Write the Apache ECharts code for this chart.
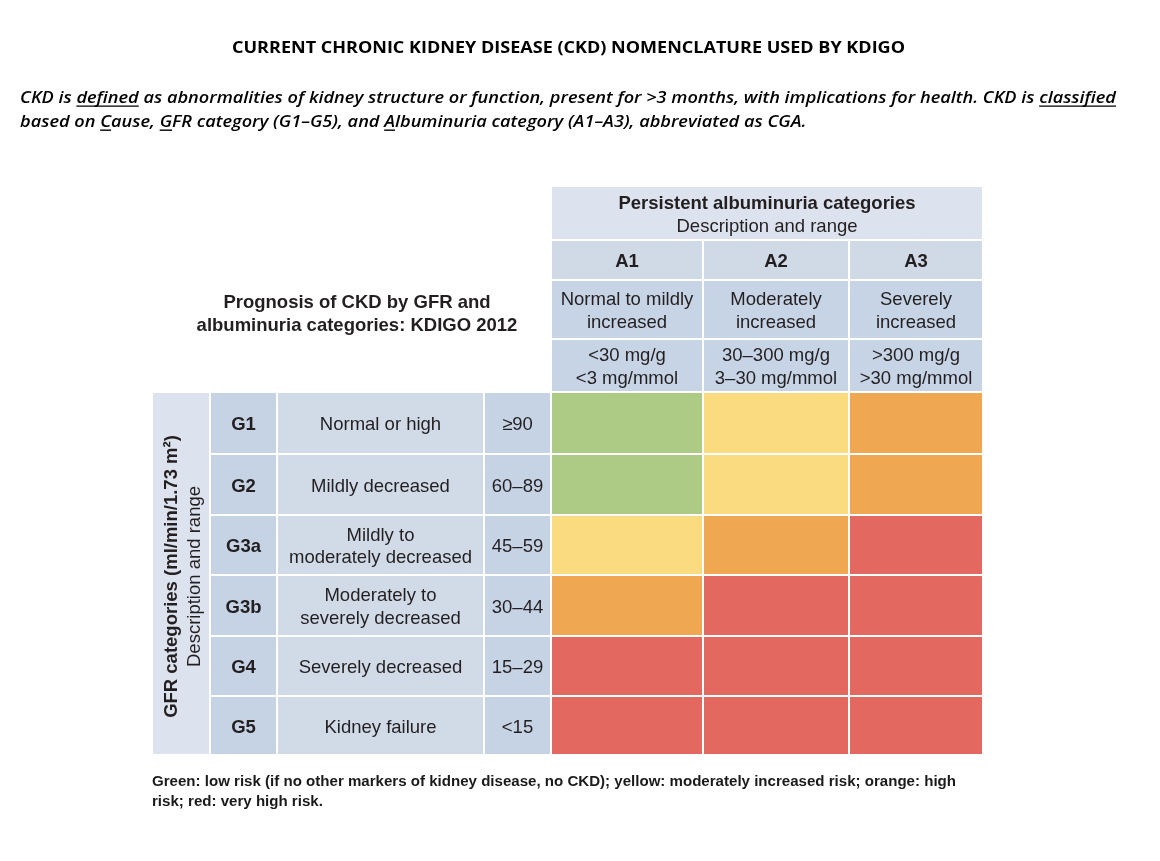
<!DOCTYPE html>
<html>
<head>
<meta charset="utf-8">
<script src="https://cdn.jsdelivr.net/npm/echarts@6/dist/echarts.min.js"></script>
<style>
html,body{margin:0;padding:0;background:#ffffff;}
#main{width:1160px;height:861px;}
</style>
</head>
<body>
<div id="main"></div>
<script>
// ---------------- DATA ----------------
const titleText = 'CURRENT CHRONIC KIDNEY DISEASE (CKD) NOMENCLATURE USED BY KDIGO';
const introLines = [
  'CKD is defined as abnormalities of kidney structure or function, present for >3 months, with implications for health. CKD is classified',
  'based on Cause, GFR category (G1–G5), and Albuminuria category (A1–A3), abbreviated as CGA.'
];
// [line index, word, number of underlined characters]
const introUnderlines = [[0, 'defined', 7], [0, 'classified', 10], [1, 'Cause', 1], [1, 'GFR', 1], [1, 'Albuminuria', 1]];
const tableTitle = 'Prognosis of CKD by GFR and\nalbuminuria categories: KDIGO 2012';
const albuminuriaHeader = 'Persistent albuminuria categories';
const albuminuriaSubHeader = 'Description and range';
const gfrHeader = 'GFR categories (ml/min/1.73 m²)';
const gfrSubHeader = 'Description and range';
const albuminuriaCategories = ['A1', 'A2', 'A3'];
const albuminuriaDescriptions = ['Normal to mildly\nincreased', 'Moderately\nincreased', 'Severely\nincreased'];
const albuminuriaRanges = ['<30 mg/g\n<3 mg/mmol', '30–300 mg/g\n3–30 mg/mmol', '>300 mg/g\n>30 mg/mmol'];
const gfrCategories = ['G1', 'G2', 'G3a', 'G3b', 'G4', 'G5'];
const gfrDescriptions = ['Normal or high', 'Mildly decreased', 'Mildly to\nmoderately decreased', 'Moderately to\nseverely decreased', 'Severely decreased', 'Kidney failure'];
const gfrRanges = ['≥90', '60–89', '45–59', '30–44', '15–29', '<15'];
// risk level per GFR row (G1..G5) and albuminuria column (A1..A3): 1 low, 2 moderate, 3 high, 4 very high
const riskLevels = [
  [1, 2, 3],
  [1, 2, 3],
  [2, 3, 4],
  [3, 4, 4],
  [4, 4, 4],
  [4, 4, 4]
];
const riskNames = ['low risk', 'moderately increased risk', 'high risk', 'very high risk'];
const footnoteLines = [
  'Green: low risk (if no other markers of kidney disease, no CKD); yellow: moderately increased risk; orange: high',
  'risk; red: very high risk.'
];

// ---------------- LAYOUT / STYLE ----------------
const TABLE = { left: 152, top: 186, width: 831, height: 569 };
const colLabel = [0, 58], colG = [58, 125], colDesc = [125, 332], colRange = [332, 399];
const aEdges = [399, 551, 697, 831];
const hEdges = [0, 54, 94, 153, 206];
const gEdges = [206, 268, 329, 389, 450, 510, 569];
const TEXT_DY = 2;

const FONT = '"Liberation Sans", Arial, Helvetica, sans-serif';
const HFONT = '"Open Sans", "Noto Sans", sans-serif';
const FS = 18.5;
const TXT = '#231f20';
const C = {
  head1: '#dde3ee', head2: '#d0dae7', head3: '#c6d4e6',
  labelCol: '#dde3ee', gCol: '#c6d3e5', descCol: '#d1dbe8', rangeCol: '#c6d3e5'
};
const riskColors = ['#aecb85', '#fbdb80', '#efa851', '#e26860'];

const measureCtx = document.createElement('canvas').getContext('2d');
function textWidth(text, font) { measureCtx.font = font; return measureCtx.measureText(text).width; }
function baselineOffset(font) {
  measureCtx.font = font; measureCtx.textBaseline = 'middle';
  const m = measureCtx.measureText('H');
  measureCtx.textBaseline = 'alphabetic';
  return m.actualBoundingBoxDescent;
}

function rectBetween(api, x0, y0, x1, y1, fill) {
  const p0 = api.coord([x0, y0]), p1 = api.coord([x1, y1]);
  return {
    type: 'rect',
    shape: { x: Math.min(p0[0], p1[0]) + 1, y: Math.min(p0[1], p1[1]) + 1,
             width: Math.abs(p1[0] - p0[0]) - 2, height: Math.abs(p1[1] - p0[1]) - 2 },
    style: { fill: fill }
  };
}
function labelAt(api, x, y, text, opts) {
  const p = api.coord([x, y]);
  return {
    type: 'text', x: p[0], y: p[1] + TEXT_DY,
    style: Object.assign({ text: text, fill: TXT, fontFamily: FONT, fontSize: FS,
      align: 'center', verticalAlign: 'middle', lineHeight: 22.5 }, opts || {})
  };
}
function labelIn(api, x0, y0, x1, y1, text, opts) {
  return labelAt(api, (x0 + x1) / 2, (y0 + y1) / 2, text, opts);
}

// ---------------- GRAPHIC TEXT (title, intro, footnote) ----------------
const titleSize = 16.8;
const titleFont = 'normal bold ' + titleSize + 'px ' + HFONT;
const titleScale = 673 / textWidth(titleText, titleFont);

const introSize = 16.4;
const introWeight = 600;
const introFont = 'italic ' + introWeight + ' ' + introSize + 'px ' + HFONT;
const introScale = 1096 / textWidth(introLines[0], introFont);
const introY = [98, 122];

const footSize = 14;
const footFont = 'normal bold ' + footSize + 'px ' + FONT;
const footScale = 804 / textWidth(footnoteLines[0], footFont);

const graphics = [];
graphics.push({
  type: 'text', x: 232, y: 48.5, scaleX: titleScale,
  style: { text: titleText, fill: '#000', fontFamily: HFONT, fontWeight: 'bold', fontSize: titleSize,
           align: 'left', verticalAlign: 'middle' }
});
introLines.forEach(function (line, i) {
  graphics.push({
    type: 'text', x: 20, y: introY[i], scaleX: introScale,
    style: { text: line, fill: '#000', fontFamily: HFONT, fontStyle: 'italic', fontWeight: introWeight,
             fontSize: introSize, align: 'left', verticalAlign: 'middle' }
  });
});
const bOff = baselineOffset(introFont);
introUnderlines.forEach(function (u) {
  const line = introLines[u[0]];
  const idx = u[1] === 'classified' ? line.lastIndexOf(u[1]) : line.indexOf(u[1]);
  const x0 = 20 + introScale * textWidth(line.slice(0, idx), introFont);
  const x1 = 20 + introScale * textWidth(line.slice(0, idx + u[2]), introFont);
  const y = introY[u[0]] + bOff + 3.5;
  graphics.push({
    type: 'line', shape: { x1: x0, y1: y, x2: x1, y2: y },
    style: { stroke: '#000', lineWidth: 1.4 }
  });
});
footnoteLines.forEach(function (line, i) {
  graphics.push({
    type: 'text', x: 152, y: 782 + i * 20, scaleX: footScale,
    style: { text: line, fill: '#1a1a1a', fontFamily: FONT, fontWeight: 'bold', fontSize: footSize,
             align: 'left', verticalAlign: 'middle' }
  });
});

// ---------------- SERIES ----------------
const riskData = [];
riskLevels.forEach(function (row, r) {
  row.forEach(function (lv, c) { riskData.push([c, r, lv]); });
});

const option = {
  animation: false,
  backgroundColor: '#ffffff',
  grid: { left: TABLE.left, top: TABLE.top, width: TABLE.width, height: TABLE.height,
          containLabel: false, outerBoundsMode: 'none' },
  xAxis: { type: 'value', min: 0, max: TABLE.width, show: false, splitLine: { show: false } },
  yAxis: { type: 'value', min: 0, max: TABLE.height, inverse: true, show: false, splitLine: { show: false } },
  graphic: graphics,
  series: [
    {
      name: 'Header',
      type: 'custom',
      silent: true,
      data: [[0, 0]],
      renderItem: function (params, api) {
        const cx = (aEdges[0] + aEdges[3]) / 2, cy = (hEdges[0] + hEdges[1]) / 2;
        const lx = (colLabel[0] + colLabel[1]) / 2, ly = (gEdges[0] + gEdges[6]) / 2;
        const pl = api.coord([lx, ly]);
        return {
          type: 'group', children: [
            rectBetween(api, aEdges[0], hEdges[0], aEdges[3], hEdges[1], C.head1),
            labelAt(api, cx, cy - 11.5, albuminuriaHeader, { fontWeight: 'bold' }),
            labelAt(api, cx, cy + 11.5, albuminuriaSubHeader),
            labelAt(api, 205, 126, tableTitle, { fontWeight: 'bold', lineHeight: 23 }),
            rectBetween(api, colLabel[0], gEdges[0], colLabel[1], gEdges[6], C.labelCol),
            { type: 'text', x: pl[0] - 9, y: pl[1] + 3, rotation: Math.PI / 2,
              style: { text: gfrHeader, fill: TXT, fontFamily: FONT, fontSize: FS, fontWeight: 'bold',
                       align: 'center', verticalAlign: 'middle' } },
            { type: 'text', x: pl[0] + 14, y: pl[1] + 3, rotation: Math.PI / 2,
              style: { text: gfrSubHeader, fill: TXT, fontFamily: FONT, fontSize: FS,
                       align: 'center', verticalAlign: 'middle' } }
          ]
        };
      }
    },
    {
      name: 'Albuminuria categories',
      type: 'custom',
      silent: true,
      data: albuminuriaCategories.map(function (a, i) { return [i, 0]; }),
      renderItem: function (params, api) {
        const i = params.dataIndex;
        const x0 = aEdges[i], x1 = aEdges[i + 1];
        return {
          type: 'group', children: [
            rectBetween(api, x0, hEdges[1], x1, hEdges[2], C.head2),
            labelIn(api, x0, hEdges[1], x1, hEdges[2], albuminuriaCategories[i], { fontWeight: 'bold' }),
            rectBetween(api, x0, hEdges[2], x1, hEdges[3], C.head3),
            labelIn(api, x0, hEdges[2], x1, hEdges[3], albuminuriaDescriptions[i]),
            rectBetween(api, x0, hEdges[3], x1, hEdges[4], C.head3),
            labelIn(api, x0, hEdges[3], x1, hEdges[4], albuminuriaRanges[i])
          ]
        };
      }
    },
    {
      name: 'GFR categories',
      type: 'custom',
      silent: true,
      data: gfrCategories.map(function (g, i) { return [0, i]; }),
      renderItem: function (params, api) {
        const i = params.dataIndex;
        const y0 = gEdges[i], y1 = gEdges[i + 1];
        return {
          type: 'group', children: [
            rectBetween(api, colG[0], y0, colG[1], y1, C.gCol),
            labelIn(api, colG[0], y0, colG[1], y1, gfrCategories[i], { fontWeight: 'bold' }),
            rectBetween(api, colDesc[0], y0, colDesc[1], y1, C.descCol),
            labelIn(api, colDesc[0], y0, colDesc[1], y1, gfrDescriptions[i]),
            rectBetween(api, colRange[0], y0, colRange[1], y1, C.rangeCol),
            labelIn(api, colRange[0], y0, colRange[1], y1, gfrRanges[i])
          ]
        };
      }
    },
    {
      name: 'Prognosis risk',
      type: 'custom',
      data: riskData,
      renderItem: function (params, api) {
        const c = api.value(0), r = api.value(1), lv = api.value(2);
        return rectBetween(api, aEdges[c], gEdges[r], aEdges[c + 1], gEdges[r + 1], riskColors[lv - 1]);
      }
    }
  ]
};

const chart = echarts.init(document.getElementById('main'), null, { renderer: 'canvas', width: 1160, height: 861 });
chart.setOption(option);
</script>
</body>
</html>
